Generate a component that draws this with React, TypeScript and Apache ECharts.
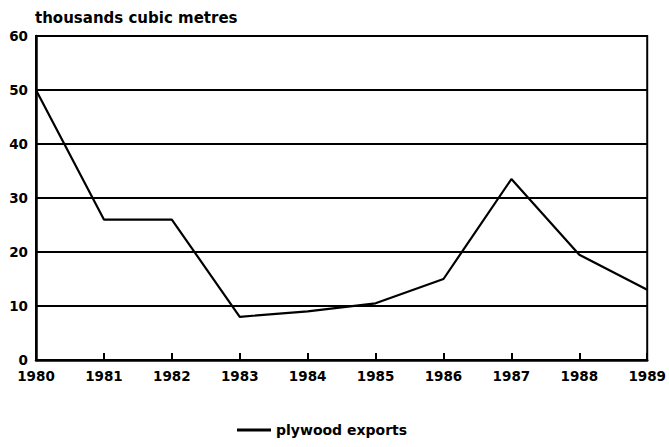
import React, { useEffect, useRef } from "react";
import * as echarts from "echarts";

const years = ["1980", "1981", "1982", "1983", "1984", "1985", "1986", "1987", "1988", "1989"];
const plywoodExports = [50, 26, 26, 8, 9, 10.5, 15, 33.5, 19.5, 13];
const yTicks = [0, 10, 20, 30, 40, 50, 60];
const unitLabel = "thousands cubic metres";
const seriesName = "plywood exports";

const FONT = "DejaVu Sans";

export default function App() {
  const ref = useRef<HTMLDivElement>(null);
  useEffect(() => {
    if (!ref.current) return;
    const chart = echarts.init(ref.current, undefined, { renderer: "svg" });
    chart.setOption({
      animation: false,
      backgroundColor: "#ffffff",
      textStyle: { fontFamily: FONT },
      grid: {
        left: 36,
        right: 21,
        top: 36,
        bottom: 87,
        show: true,
        borderColor: "#000",
        borderWidth: 2,
      },
      graphic: [
        {
          type: "text",
          left: 35,
          top: 10,
          style: {
            text: unitLabel,
            font: `bold 15px ${FONT}`,
            fill: "#000",
          },
        },
      ],
      legend: {
        bottom: 5,
        left: 232,
        itemWidth: 34,
        itemHeight: 3,
        itemGap: 6,
        icon: "rect",
        textStyle: { fontFamily: FONT, fontWeight: "bold", fontSize: 14, color: "#000" },
        data: [seriesName],
      },
      xAxis: {
        type: "category",
        data: years,
        boundaryGap: false,
        axisLine: { lineStyle: { color: "#000", width: 2.5 } },
        axisTick: { show: true, inside: true, length: 7, lineStyle: { color: "#000", width: 2 } },
        axisLabel: {
          color: "#000",
          fontFamily: FONT,
          fontWeight: "bold",
          fontSize: 13.5,
          margin: 9,
        },
        splitLine: { show: false },
      },
      yAxis: {
        type: "value",
        min: yTicks[0],
        max: yTicks[yTicks.length - 1],
        interval: 10,
        axisLine: { show: true, lineStyle: { color: "#000", width: 2.5 } },
        axisTick: { show: false },
        axisLabel: {
          color: "#000",
          fontFamily: FONT,
          fontWeight: "bold",
          fontSize: 13.5,
          margin: 8,
        },
        splitLine: { show: true, lineStyle: { color: "#000", width: 2 } },
      },
      series: [
        {
          name: seriesName,
          type: "line",
          data: plywoodExports,
          symbol: "none",
          lineStyle: { color: "#000", width: 2.2 },
          itemStyle: { color: "#000" },
        },
      ],
    });
    return () => chart.dispose();
  }, []);
  return <div ref={ref} style={{ width: 669, height: 447, position: "absolute", left: 0, top: 0 }} />;
}
